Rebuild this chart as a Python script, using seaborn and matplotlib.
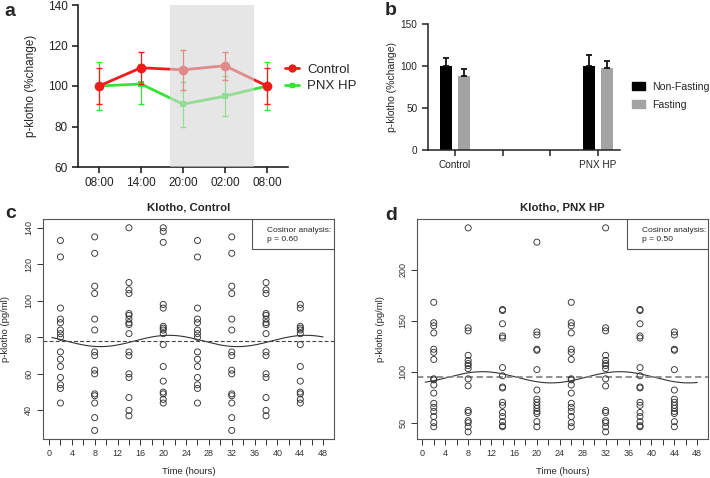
import numpy as np
import pandas as pd
import matplotlib
matplotlib.use("Agg")
import matplotlib.pyplot as plt
import seaborn as sns
from matplotlib.patches import Rectangle, Patch
from matplotlib.lines import Line2D

# ---------------- data ----------------
# panel a
a_times = ["08:00", "14:00", "20:00", "02:00", "08:00"]
a_control = [100, 109, 108, 110, 100]
a_control_err = [9, 8, 10, 7, 9]
a_pnx = [100, 101, 91, 95, 100]
a_pnx_err = [12, 10, 11, 10, 12]

# panel b
b_groups = ["Control", "PNX HP"]
b_slots = ["Control", "gap1", "gap2", "PNX HP"]
b_slot_labels = ["Control", "", "", "PNX HP"]
b_nonfasting = [100, 100]
b_nonfasting_err = [10, 12.5]
b_fasting = [88, 98]
b_fasting_err = [9, 7.5]

# panel c (Klotho, Control) - pg/ml per sampling time (hours)
c_times = [2, 8, 14, 20, 26, 32, 38, 44]
c_t2 = [133, 124, 96, 90, 88, 84, 82, 80, 72, 68, 64, 58, 54, 52, 44]
c_t8 = [135, 126, 108, 104, 90, 84, 72, 70, 62, 60, 49, 48, 44, 36, 29]
c_t14 = [140, 110, 106, 104, 93, 92, 90, 88, 87, 82, 72, 70, 60, 58, 47, 40, 37]
c_t20 = [140, 138, 132, 98, 96, 86, 85, 84, 82, 76, 64, 56, 50, 49, 46, 44]
c_t26 = [133, 124, 96, 90, 88, 84, 82, 80, 72, 68, 64, 58, 54, 52, 44]
c_t32 = [135, 126, 108, 104, 90, 84, 72, 70, 62, 60, 49, 48, 44, 36, 29]
c_t38 = [140, 110, 106, 104, 93, 92, 90, 88, 87, 82, 72, 70, 60, 58, 47, 40, 37]
c_t44 = [98, 96, 86, 85, 84, 82, 76, 64, 56, 50, 49, 46, 44]
c_mesor, c_amp, c_acro = 78, 3.1, 21
c_p = "0.60"

# panel d (Klotho, PNX HP)
d_times = [2, 8, 14, 20, 26, 32, 38, 44]
d_t2 = [168, 148, 145, 138, 122, 119, 112, 93, 92, 87, 79, 69, 65, 61, 56, 50, 46]
d_t8 = [241, 143, 140, 116, 111, 108, 106, 103, 93, 86, 62, 60, 52, 50, 46, 41]
d_t14 = [161, 160, 147, 135, 133, 104, 96, 85, 84, 70, 67, 60, 56, 51, 47, 46]
d_t20 = [227, 139, 136, 122, 121, 102, 82, 73, 70, 67, 64, 61, 59, 51, 46]
d_t26 = [168, 148, 145, 138, 122, 119, 112, 93, 92, 87, 79, 69, 65, 61, 56, 50, 46]
d_t32 = [241, 143, 140, 116, 111, 108, 106, 103, 93, 86, 62, 60, 52, 50, 46, 41]
d_t38 = [161, 160, 147, 135, 133, 104, 96, 85, 84, 70, 67, 60, 56, 51, 47, 46]
d_t44 = [139, 136, 122, 121, 102, 82, 73, 70, 67, 64, 61, 59, 51, 46]
d_mesor, d_amp, d_acro = 94.5, 5.5, 10.5
d_p = "0.50"

xticks_cd = [0, 2, 4, 6, 8, 10, 12, 14, 16, 18, 20, 22, 24, 26, 28, 30, 32, 34, 36, 38, 40, 42, 44, 46, 48]
c_yticks = [40, 60, 80, 100, 120, 140]
d_yticks = [50, 100, 150, 200]

# ---------------- style ----------------
sns.set_style("ticks")
plt.rcParams["font.family"] = ["Liberation Sans", "DejaVu Sans"]

RED = "#ee1c1c"
GREEN = "#33e633"

fig = plt.figure(figsize=(7.1, 4.78), dpi=100)
W, H = 710, 478


def axes_px(l, t, r, b):
    return fig.add_axes([l / W, 1 - b / H, (r - l) / W, (b - t) / H])


# ---------------- panel a ----------------
ax = axes_px(78, 5, 288, 167)
pos = list(range(len(a_times)))
df_a = pd.DataFrame({"pos": pos * 2,
                     "value": a_control + a_pnx,
                     "group": ["Control"] * 5 + ["PNX HP"] * 5})
sns.lineplot(data=df_a[df_a.group == "PNX HP"], x="pos", y="value", color=GREEN,
             marker="s", markersize=4, markeredgewidth=0, lw=2, ax=ax, legend=False)
ax.errorbar(pos, a_pnx, yerr=a_pnx_err, fmt="none", ecolor=GREEN, elinewidth=0.9, capsize=2)
sns.lineplot(data=df_a[df_a.group == "Control"], x="pos", y="value", color=RED,
             marker="o", markersize=7, markeredgewidth=0, lw=2, ax=ax, legend=False)
ax.errorbar(pos, a_control, yerr=a_control_err, fmt="none", ecolor=RED, elinewidth=0.9, capsize=2)
ax.axvspan(1.69, 3.69, color="#d6d6d6", alpha=0.6, lw=0, zorder=10)
ax.set_xlim(-0.5, 4.5)
ax.set_ylim(60, 140)
ax.set_yticks([60, 80, 100, 120, 140])
ax.set_xticks(pos)
ax.set_xticklabels(a_times)
ax.tick_params(labelsize=8.5, length=4, width=1.2, colors="#222")
for s in ["left", "bottom"]:
    ax.spines[s].set_linewidth(1.2)
    ax.spines[s].set_color("#222")
sns.despine(ax=ax)
ax.set_xlabel("")
ax.set_ylabel("p-klotho (%change)", fontsize=8.5)
ax.yaxis.set_label_coords(-0.195, 0.5)
handles = [Line2D([], [], color=RED, marker="o", markersize=5, lw=2),
           Line2D([], [], color=GREEN, marker="s", markersize=3.5, lw=2)]
ax.legend(handles, ["Control", "PNX HP"], loc="upper left", bbox_to_anchor=(0.985, 0.64),
          frameon=False, fontsize=9.5, handlelength=1.1, handletextpad=0.6,
          labelspacing=0.35, borderpad=0, borderaxespad=0)
fig.text(4 / W, 1 - 15.5 / H, "a", fontsize=14, weight="bold", va="baseline")

# ---------------- panel b ----------------
ax = axes_px(428, 24, 620, 150)
df_b = pd.DataFrame({"slot": b_groups * 2,
                     "value": b_nonfasting + b_fasting,
                     "cond": ["Non-Fasting"] * 2 + ["Fasting"] * 2})
pal_b = {"Non-Fasting": "#000000", "Fasting": "#a3a3a3"}
sns.barplot(data=df_b, x="slot", y="value", hue="cond", order=b_slots,
            hue_order=["Non-Fasting", "Fasting"], palette=pal_b, width=0.75, gap=0.33,
            errorbar=None, saturation=1, legend=False, ax=ax, lw=0)
errs = {"Non-Fasting": b_nonfasting_err, "Fasting": b_fasting_err}
for cont, cond in zip(ax.containers, ["Non-Fasting", "Fasting"]):
    xs = [p.get_x() + p.get_width() / 2 for p in cont.patches]
    hs = [p.get_height() for p in cont.patches]
    ax.errorbar(xs, hs, yerr=[[0] * len(hs), errs[cond]], fmt="none", ecolor="#111",
                elinewidth=1.3, capsize=2.5, capthick=1.3)
ax.set_xlim(-0.56, 3.46)
ax.set_ylim(0, 150)
ax.set_yticks([0, 50, 100, 150])
ax.set_xticks(range(len(b_slots)))
ax.set_xticklabels(b_slot_labels)
ax.tick_params(labelsize=7.2, length=4, width=1.1, colors="#222")
for s in ["left", "bottom"]:
    ax.spines[s].set_linewidth(1.1)
    ax.spines[s].set_color("#222")
sns.despine(ax=ax)
ax.set_xlabel("")
ax.set_ylabel("p-klotho (%change)", fontsize=7.5)
ax.yaxis.set_label_coords(-0.16, 0.5)
ax.legend([Patch(color=pal_b["Non-Fasting"]), Patch(color=pal_b["Fasting"])],
          ["Non-Fasting", "Fasting"], loc="upper left", bbox_to_anchor=(1.065, 0.54),
          frameon=False, fontsize=7.6, handlelength=1.15, handleheight=0.8,
          handletextpad=0.75, labelspacing=0.75, borderpad=0, borderaxespad=0)
fig.text(385 / W, 1 - 15 / H, "b", fontsize=14, weight="bold", va="baseline")


# ---------------- panels c, d ----------------
def cosinor_panel(box, times, columns, mesor, amp, acro, pval, yticks, ylim, xlim,
                  title, letter, letter_xy, legend_left, dash_color, dash_lw, ylab_x):
    ax = axes_px(*box)
    rows = []
    for t, col in zip(times, columns):
        for v in col:
            rows.append((t, v))
    df = pd.DataFrame(rows, columns=["time", "value"])
    sns.scatterplot(data=df, x="time", y="value", marker="o", s=19, facecolor="none",
                    edgecolor="#333333", linewidth=0.65, ax=ax, zorder=3)
    tt = np.linspace(0.5, 48, 300)
    yy = mesor + amp * np.cos(2 * np.pi * (tt - acro) / 24)
    sns.lineplot(x=tt, y=yy, color="#333333", lw=0.8, ax=ax)
    ax.axhline(mesor, ls=(0, (3.5, 2)), color=dash_color, lw=dash_lw, zorder=2)
    ax.set_xlim(*xlim)
    ax.set_ylim(*ylim)
    ax.set_xticks(xticks_cd)
    ax.set_xticklabels([str(v) if v % 4 == 0 else "" for v in xticks_cd])
    ax.set_yticks(yticks)
    ax.set_yticklabels([str(v) for v in yticks], rotation=90, va="center")
    ax.tick_params(labelsize=6.5, length=4, width=0.7, colors="#333", pad=3)
    for s in ax.spines.values():
        s.set_linewidth(0.8)
        s.set_color("#555")
        s.set_visible(True)
    ax.set_title(title, fontsize=8.2, weight="bold", pad=6)
    ax.set_xlabel("Time (hours)", fontsize=6.8)
    ax.xaxis.set_label_coords(0.5, -0.125)
    ax.set_ylabel("p-klotho (pg/ml)", fontsize=6.8)
    ax.yaxis.set_label_coords(ylab_x, 0.5)
    ax.add_patch(Rectangle((legend_left, 0.8636), 1 - legend_left, 0.1364,
                           transform=ax.transAxes, fc="white", ec="#555", lw=0.8, zorder=5))
    ax.text(legend_left + 0.053, 0.95, "Cosinor analysis:", transform=ax.transAxes,
            fontsize=6, va="center", zorder=6)
    ax.text(legend_left + 0.053, 0.905, "p = " + pval, transform=ax.transAxes,
            fontsize=6, va="center", zorder=6)
    fig.text(letter_xy[0] / W, 1 - letter_xy[1] / H, letter, fontsize=14, weight="bold",
             va="baseline")
    return ax


cosinor_panel((43, 219, 334, 439), c_times,
              [c_t2, c_t8, c_t14, c_t20, c_t26, c_t32, c_t38, c_t44],
              c_mesor, c_amp, c_acro, c_p, c_yticks, (24.3, 144.8), (-1.05, 49.9),
              "Klotho, Control", "c", (5, 218), 0.718, "#444444", 0.8, -0.112)
cosinor_panel((417, 219, 708, 439), d_times,
              [d_t2, d_t8, d_t14, d_t20, d_t26, d_t32, d_t38, d_t44],
              d_mesor, d_amp, d_acro, d_p, d_yticks, (34, 249.7), (-0.93, 49.87),
              "Klotho, PNX HP", "d", (385, 220), 0.7216, "#888888", 1.3, -0.11)

fig.savefig("out.png", dpi=100)
